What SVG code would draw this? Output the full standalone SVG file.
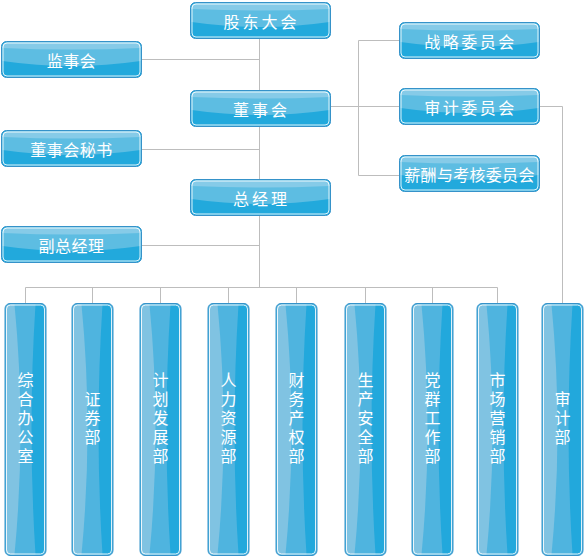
<svg xmlns="http://www.w3.org/2000/svg" xmlns:xlink="http://www.w3.org/1999/xlink" width="584" height="556" viewBox="0 0 584 556">
<style>
.ln{stroke:#bdbdbd;stroke-width:1;fill:none}
.t{fill:#fff;font-family:"Noto Sans CJK SC","Noto Sans CJK JP",sans-serif;font-size:16px;text-anchor:middle;dominant-baseline:central}
.v{fill:#fff;font-family:"Noto Sans CJK SC","Noto Sans CJK JP",sans-serif;font-size:16px;text-anchor:middle;writing-mode:vertical-rl;letter-spacing:3px}
</style>
<defs>
<symbol id="hbox" width="141" height="37" overflow="visible">
<rect x="0.5" y="0.5" width="140" height="36" rx="5" fill="#22a9dc" stroke="#3592c9"/>
<path d="M1.5,6 Q1.5,1.5 6,1.5 H135 Q139.5,1.5 139.5,6 V20 Q70.5,30 1.5,20 Z" fill="#5dbde2"/>
<path d="M1.5,6 Q1.5,1.5 6,1.5 H135 Q139.5,1.5 139.5,6 V7 Q70.5,10 1.5,7 Z" fill="#86cbe8"/>
<rect x="2" y="2" width="137" height="33" rx="4" fill="none" stroke="#fff" stroke-opacity="0.85"/>
</symbol>
<symbol id="vbox" width="42" height="253" overflow="visible">
<rect x="0.5" y="0.5" width="41" height="252" rx="5" fill="#4fb4df" stroke="#3592c9"/>
<path d="M1.5,6 Q1.5,1.5 6,1.5 H10 Q22,126 10,251.5 H6 Q1.5,251.5 1.5,247 Z" fill="#80c3e2"/>
<path d="M31,1.5 H36 Q40.5,1.5 40.5,6 V247 Q40.5,251.5 36,251.5 H31 Q23,126 31,1.5 Z" fill="#22a8dc"/>
<rect x="2" y="2" width="38" height="249" rx="4" fill="none" stroke="#fff" stroke-opacity="0.85"/>
</symbol>
</defs>
<g id="connectors">
<path class="ln" d="M259.5,38 V90 M259.5,127 V179 M259.5,216 V287.5"/>
<path class="ln" d="M141,59.5 H259.5 M141,149.5 H259.5 M141,245.5 H259.5"/>
<path class="ln" d="M330,106.5 H399 M358.5,40.5 V175.5 M358.5,40.5 H399 M358.5,175.5 H399"/>
<path class="ln" d="M539,106.5 H562.5 V303"/>
<path class="ln" d="M25.5,287.5 H497.5 M25.5,287.5 V303 M92.5,287.5 V303 M160.5,287.5 V303 M228.5,287.5 V303 M296.5,287.5 V303 M365.5,287.5 V303 M432.5,287.5 V303 M497.5,287.5 V303"/>
</g>
<g id="gudong"><use xlink:href="#hbox" x="190" y="2"/><text class="t" x="261.5" y="20.5" letter-spacing="3">股东大会</text></g>
<g id="jianshi"><use xlink:href="#hbox" x="1" y="41"/><text class="t" x="71.5" y="59.5" letter-spacing="0.5">监事会</text></g>
<g id="dongshi"><use xlink:href="#hbox" x="190" y="90"/><text class="t" x="261.5" y="108.5" letter-spacing="3">董事会</text></g>
<g id="dongmi"><use xlink:href="#hbox" x="1" y="130"/><text class="t" x="71.5" y="148.5" letter-spacing="0.5">董事会秘书</text></g>
<g id="zongjingli"><use xlink:href="#hbox" x="190" y="179"/><text class="t" x="261.5" y="197.5" letter-spacing="3">总经理</text></g>
<g id="fuzong"><use xlink:href="#hbox" x="1" y="226"/><text class="t" x="71.5" y="244.5" letter-spacing="0.5">副总经理</text></g>
<g id="zhanlue"><use xlink:href="#hbox" x="399" y="22"/><text class="t" x="470.5" y="40.5" letter-spacing="2.5">战略委员会</text></g>
<g id="shenjiwy"><use xlink:href="#hbox" x="399" y="88"/><text class="t" x="470.5" y="106.5" letter-spacing="2.5">审计委员会</text></g>
<g id="xinchou"><use xlink:href="#hbox" x="399" y="155"/><text class="t" x="469.5" y="173.5" letter-spacing="0.3">薪酬与考核委员会</text></g>
<g id="zonghe"><use xlink:href="#vbox" x="4.5" y="303"/><text class="v" x="25.5" y="419">综合办公室</text></g>
<g id="zhengquan"><use xlink:href="#vbox" x="71.5" y="303"/><text class="v" x="92.5" y="419">证券部</text></g>
<g id="jihua"><use xlink:href="#vbox" x="139.5" y="303"/><text class="v" x="160.5" y="419">计划发展部</text></g>
<g id="renli"><use xlink:href="#vbox" x="207.5" y="303"/><text class="v" x="228.5" y="419">人力资源部</text></g>
<g id="caiwu"><use xlink:href="#vbox" x="275.5" y="303"/><text class="v" x="296.5" y="419">财务产权部</text></g>
<g id="shengchan"><use xlink:href="#vbox" x="344.5" y="303"/><text class="v" x="365.5" y="419">生产安全部</text></g>
<g id="dangqun"><use xlink:href="#vbox" x="411.5" y="303"/><text class="v" x="432.5" y="419">党群工作部</text></g>
<g id="shichang"><use xlink:href="#vbox" x="476.5" y="303"/><text class="v" x="497.5" y="419">市场营销部</text></g>
<g id="shenjibu"><use xlink:href="#vbox" x="541.5" y="303"/><text class="v" x="562.5" y="419">审计部</text></g>
</svg>
